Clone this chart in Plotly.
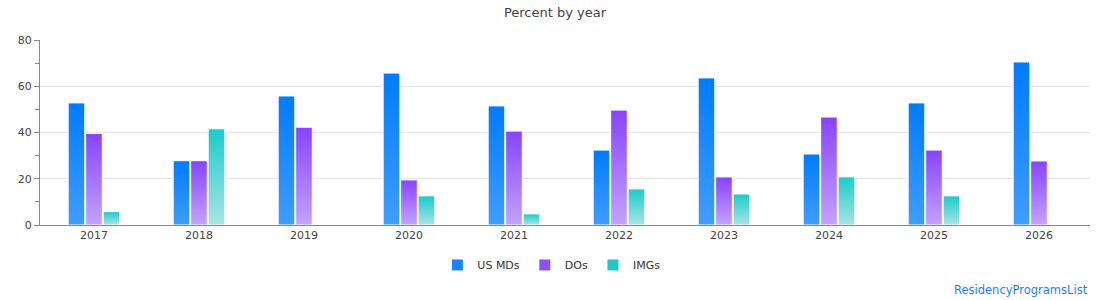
import plotly.graph_objects as go

years = ["2017", "2018", "2019", "2020", "2021", "2022", "2023", "2024", "2025", "2026"]
us_mds = [52.8, 27.8, 55.8, 65.7, 51.5, 32.4, 63.6, 30.7, 52.8, 70.5]
dos = [39.6, 27.8, 42.3, 19.5, 40.6, 49.7, 20.8, 46.7, 32.4, 27.7]
imgs = [5.8, 41.6, None, 12.6, 4.8, 15.6, 13.4, 20.8, 12.6, None]

series_names = ["US MDs", "DOs", "IMGs"]
legend_colors = ["#1a82ff", "#8c4fff", "#1cc8c8"]
grad_colors = [["#007bff", "#3f9dff"], ["#8843ff", "#c4a2ff"], ["#18cccc", "#aae4e4"]]

font = "DejaVu Sans"
fig = go.Figure()
for name, vals, col in zip(series_names, [us_mds, dos, imgs], legend_colors):
    fig.add_trace(go.Bar(
        x=years, y=vals, name=name,
        marker=dict(color=col, line=dict(color="white", width=1)),
        hoverinfo="x+y+name",
    ))

fig.update_layout(
    width=1110, height=300,
    margin=dict(l=40, r=20, t=40, b=75),
    paper_bgcolor="white", plot_bgcolor="white",
    font=dict(family=font, size=11, color="#444"),
    title=dict(text="Percent by year", x=0.5, xanchor="center", y=0.96, yanchor="middle",
               font=dict(family=font, size=13, color="#444")),
    barmode="group", bargap=0.5, bargroupgap=0.05,
    showlegend=True,
    legend=dict(orientation="h", x=0.487, xanchor="center", y=-0.216, yanchor="middle",
                font=dict(family=font, size=11, color="#333"), itemwidth=30,
                traceorder="normal"),
    xaxis=dict(showline=True, linecolor="#888", linewidth=1, showgrid=False,
               range=[-0.514, 9.486],
               ticks="", tickfont=dict(family=font, size=11, color="#444")),
    yaxis=dict(range=[0, 80], tickvals=[0, 20, 40, 60, 80], showline=True, linecolor="#888",
               linewidth=1, showgrid=True, gridcolor="#e6e6e6", gridwidth=1,
               ticks="outside", ticklen=5, tickcolor="#888", zeroline=False,
               minor=dict(tickvals=[10, 30, 50, 70], ticks="outside", ticklen=4, tickcolor="#888",
                          showgrid=False),
               tickfont=dict(family=font, size=11, color="#444")),
    annotations=[dict(text="ResidencyProgramsList", xref="paper", yref="paper",
                      x=1, xanchor="right", y=-0.35, yanchor="middle", showarrow=False,
                      font=dict(family=font, size=11.5, color="#1a82ff"))],
)

grad_js = str(grad_colors).replace("'", '"')
post = """
var gd = document.getElementById('{plot_id}');
var cols = %s;
function applyGrad(){
  var svg = gd.querySelector('svg.main-svg');
  if(!svg) return;
  var defs = svg.querySelector('defs');
  var ns = 'http://www.w3.org/2000/svg';
  cols.forEach(function(c,i){
    if(!document.getElementById('bargrad'+i)){
      var lg = document.createElementNS(ns,'linearGradient');
      lg.setAttribute('id','bargrad'+i);
      lg.setAttribute('x1','0'); lg.setAttribute('y1','0');
      lg.setAttribute('x2','0'); lg.setAttribute('y2','1');
      [[0,c[0]],[1,c[1]]].forEach(function(s){
        var st = document.createElementNS(ns,'stop');
        st.setAttribute('offset', s[0]);
        st.setAttribute('stop-color', s[1]);
        lg.appendChild(st);
      });
      defs.appendChild(lg);
    }
  });
  gd.querySelectorAll('.barlayer .trace').forEach(function(tr,i){
    tr.querySelectorAll('path').forEach(function(p){ p.style.fill = 'url(#bargrad'+i+')'; });
  });
}
applyGrad();
gd.on('plotly_afterplot', applyGrad);
""" % grad_js

fig.write_html("out.html", post_script=post)
